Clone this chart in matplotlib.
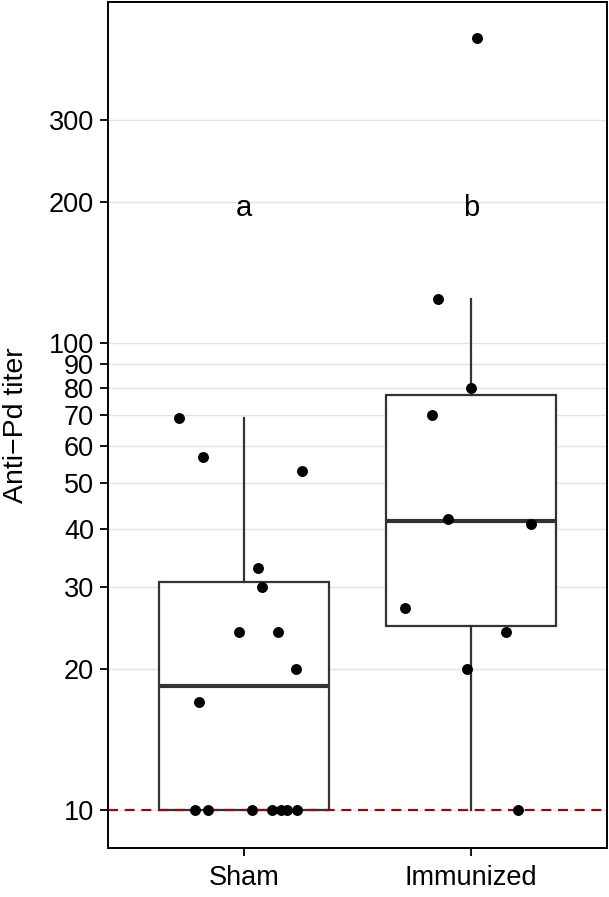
import numpy as np
import matplotlib
matplotlib.use('Agg')
import matplotlib.pyplot as plt
from matplotlib import cbook

plt.rcParams['font.family'] = ['Liberation Sans', 'DejaVu Sans']

groups = ['Sham', 'Immunized']
sham = [69, 57, 53, 33, 30, 24, 24, 20, 17, 10, 10, 10, 10, 10, 10, 10]
sham_jit = [-0.288, -0.181, 0.255, 0.063, 0.080, -0.022, 0.150, 0.230, -0.198,
            -0.217, -0.159, 0.037, 0.125, 0.162, 0.189, 0.233]
immun = [450, 124, 80, 70, 42, 41, 27, 24, 20, 10]
immun_jit = [0.025, -0.143, 0.001, -0.173, -0.103, 0.267, -0.291, 0.155, -0.016, 0.208]
letters = ['a', 'b']
yticks = [10, 20, 30, 40, 50, 60, 70, 80, 90, 100, 200, 300]
limit = 10

fig = plt.figure(figsize=(6.09, 8.97), dpi=100)
ax = fig.add_axes([0.1773, 0.0546, 0.8194, 0.9432])
ax.set_yscale('log')

# box stats on log scale like ggplot scale_y_log10
stats = []
for vals, name in zip([sham, immun], groups):
    s = cbook.boxplot_stats(np.log10(vals))[0]
    for k in ['med', 'q1', 'q3', 'whislo', 'whishi']:
        s[k] = 10 ** s[k]
    s['fliers'] = []
    s['label'] = name
    stats.append(s)

ax.bxp(stats, positions=[1, 2], widths=0.75, showfliers=False, showcaps=False,
       patch_artist=True,
       boxprops=dict(facecolor='white', edgecolor='#333333', linewidth=1.6),
       whiskerprops=dict(color='#333333', linewidth=1.6),
       medianprops=dict(color='#333333', linewidth=3.0, solid_capstyle='butt'),
       zorder=3)

ax.axhline(limit, color='#8b0f0f', linestyle=(0, (4.5, 3)), linewidth=1.6, zorder=4)

for i, (vals, jit) in enumerate(zip([sham, immun], [sham_jit, immun_jit])):
    ax.scatter(np.array(jit) + i + 1, vals, s=62, color='black', zorder=5, linewidths=0)

for i, t in enumerate(letters):
    ax.text(i + 1, 187, t, ha='center', va='baseline', fontsize=21)

ax.set_xlim(0.4, 2.6)
ax.set_ylim(8.28, 536.6)
ax.set_yticks(yticks)
ax.set_yticklabels([str(v) for v in yticks])
ax.yaxis.set_minor_locator(matplotlib.ticker.NullLocator())
ax.set_xticks([1, 2])
ax.set_xticklabels(groups)
ax.tick_params(axis='both', labelsize=19.5, length=6, width=1.3, color='black')
ax.tick_params(axis='y', pad=4)
ax.tick_params(axis='x', pad=6)
ax.grid(axis='y', color='#e3e3e3', linewidth=1.0, zorder=0)
ax.set_axisbelow(True)
for sp in ax.spines.values():
    sp.set_linewidth(1.4)
    sp.set_color('black')

ax.set_ylabel('Anti\u2212Pd titer', fontsize=20.5)
ax.yaxis.set_label_coords(-0.158, 0.5)

fig.savefig('out.png', dpi=100)
